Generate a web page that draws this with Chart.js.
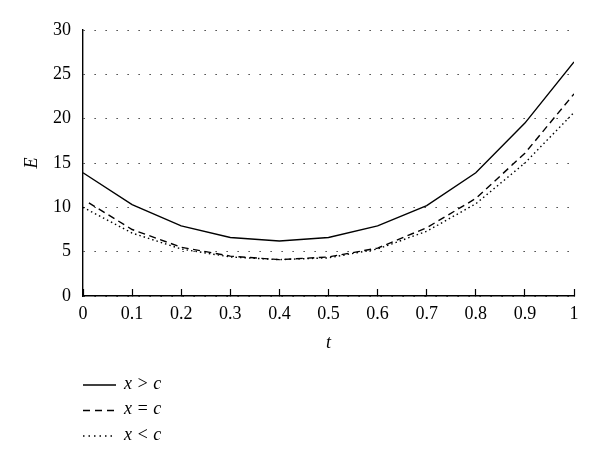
<!DOCTYPE html>
<html>
<head>
<meta charset="utf-8">
<script src="https://cdn.jsdelivr.net/npm/chart.js@4"></script>
<style>
  body { margin: 0; background: #fff; }
</style>
</head>
<body>
<canvas id="myChart" width="600" height="468"></canvas>
<script>
// values
const tValues = [0, 0.1, 0.2, 0.3, 0.4, 0.5, 0.6, 0.7, 0.8, 0.9, 1];
const tDashed = [0.012, 0.1, 0.2, 0.3, 0.4, 0.5, 0.6, 0.7, 0.8, 0.9, 1];
const eGreater = [13.9, 10.3, 7.9, 6.6, 6.2, 6.6, 7.9, 10.2, 13.9, 19.5, 26.4];
const eEqual = [10.5, 7.5, 5.5, 4.5, 4.1, 4.4, 5.4, 7.7, 11.0, 16.1, 22.8];
const eLess = [10.0, 7.1, 5.3, 4.4, 4.1, 4.3, 5.3, 7.3, 10.4, 15.0, 20.7];
const seriesLabels = ['x > c', 'x = c', 'x < c'];
const xTicks = [0, 0.1, 0.2, 0.3, 0.4, 0.5, 0.6, 0.7, 0.8, 0.9, 1];
const yTicks = [0, 5, 10, 15, 20, 25, 30];

const serif = '"Liberation Serif", "DejaVu Serif", serif';

const toPoints = (xs, ys) => ys.map((y, i) => ({ x: xs[i], y: y }));

// legend drawn under the plot, one row per series
const lineLegend = {
	id: 'lineLegend',
	afterDraw(chart) {
		const ctx = chart.ctx;
		const x0 = chart.chartArea.left;
		ctx.save();
		chart.data.datasets.forEach((ds, i) => {
			const y = 385 + i * 25.5;
			ctx.strokeStyle = ds.borderColor;
			ctx.lineWidth = ds.borderWidth;
			ctx.setLineDash(ds.legendDash || []);
			ctx.beginPath();
			ctx.moveTo(x0, y);
			ctx.lineTo(x0 + 33, y);
			ctx.stroke();
			ctx.setLineDash([]);
			ctx.fillStyle = '#000';
			ctx.font = 'italic 18px ' + serif;
			ctx.textBaseline = 'middle';
			ctx.fillText(ds.label, x0 + 41, y - 1);
		});
		ctx.restore();
	}
};

new Chart(
	document.getElementById('myChart'),
	{
		type: 'line',
		data: {
			datasets: [
				{
					label: seriesLabels[0],
					data: toPoints(tValues, eGreater),
					borderColor: '#000',
					borderWidth: 1.4,
					pointRadius: 0,
					fill: false,
					tension: 0
				},
				{
					label: seriesLabels[1],
					data: toPoints(tDashed, eEqual),
					borderColor: '#000',
					borderWidth: 1.4,
					borderDash: [7, 4.5],
					legendDash: [7, 5],
					pointRadius: 0,
					fill: false,
					tension: 0
				},
				{
					label: seriesLabels[2],
					data: toPoints(tValues, eLess),
					borderColor: '#000',
					borderWidth: 1.4,
					borderDash: [1.5, 3],
					legendDash: [1.5, 4],
					pointRadius: 0,
					fill: false,
					tension: 0
				}
			]
		},
		options: {
			responsive: false,
			animation: false,
			layout: { padding: { top: 30, right: 26, bottom: 0, left: 0 } },
			plugins: {
				legend: { display: false },
				tooltip: { enabled: false }
			},
			scales: {
				x: {
					type: 'linear',
					position: 'bottom',
					min: 0,
					max: 1,
					afterBuildTicks: axis => { axis.ticks = xTicks.map(v => ({ value: v })); },
					afterFit: axis => { axis.height = 172; },
					ticks: {
						color: '#000',
						padding: 14,
						maxRotation: 0,
						autoSkip: false,
						font: { family: serif, size: 18 },
						callback: v => String(v)
					},
					grid: {
						drawOnChartArea: false,
						drawTicks: true,
						tickLength: -7,
						tickColor: '#000',
						tickWidth: 1.2
					},
					border: { display: true, color: '#000', width: 1.4 },
					title: {
						display: true,
						text: 't',
						color: '#000',
						font: { family: serif, size: 18, style: 'italic' },
						padding: { top: 0, bottom: 114 }
					}
				},
				y: {
					type: 'linear',
					min: 0,
					max: 30,
					afterBuildTicks: axis => { axis.ticks = yTicks.map(v => ({ value: v })); },
					afterFit: axis => { axis.width = 83; },
					ticks: {
						color: '#000',
						padding: 12,
						font: { family: serif, size: 18 }
					},
					grid: {
						drawTicks: false,
						color: '#444',
						lineWidth: 1
					},
					border: { display: true, color: '#000', width: 1.4, dash: [1.5, 9.5] },
					title: {
						display: true,
						text: 'E',
						color: '#000',
						font: { family: serif, size: 18, style: 'italic' },
						padding: { top: 21, bottom: 0 }
					}
				}
			}
		},
		plugins: [lineLegend]
	}
);
</script>
</body>
</html>
